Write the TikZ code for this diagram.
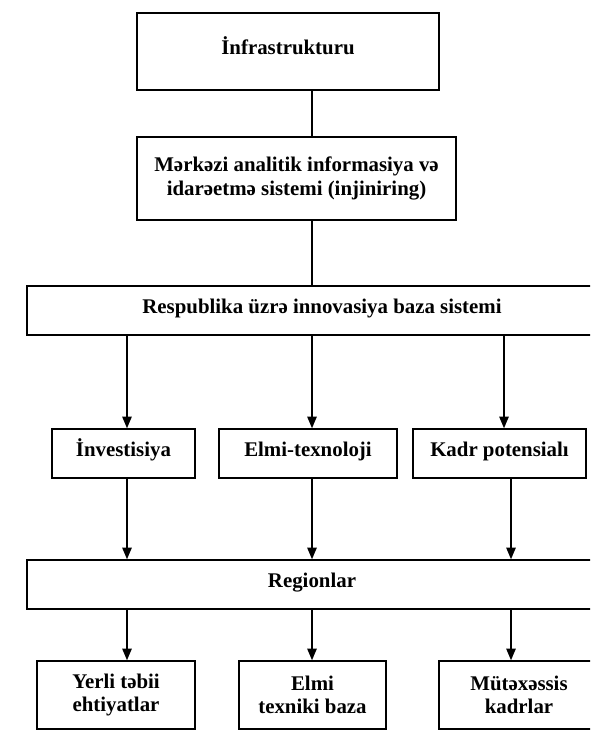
\documentclass[tikz,border=0pt]{standalone}
\usepackage{fontspec}
\setmainfont{Liberation Serif}
\usepackage{tikz}
\usetikzlibrary{arrows}

\begin{document}
\begin{tikzpicture}[x = 0.03cm, y = -0.03cm,
        box/.style = {draw, line width = 1.4pt, align = center, inner sep = 0pt,
            font = \fontsize{17.8}{20}\selectfont\bfseries},
        oneline/.style = {text height = 11pt, text depth = 6pt},
        link/.style = {line width = 1.3pt},
        arr/.style = {line width = 1.3pt, -triangle 45}]
        \clip (0, 0) rectangle (590, 731);
        \fill[white] (0, 0) rectangle (590, 731);

        \node[box, oneline, minimum width = 302*0.03cm, minimum height = 77*0.03cm] (infra) at (288, 51.5) {İnfrastrukturu};
        \node[box, minimum width = 319*0.03cm, minimum height = 83*0.03cm] (merkezi) at (296.5, 178.5)
            {Mərkəzi analitik informasiya və\\idarəetmə sistemi (injiniring)};
        \node[box, oneline, minimum width = 590*0.03cm, minimum height = 49*0.03cm] (resp) at (322, 310.5)
            {Respublika üzrə innovasiya baza sistemi};

        \node[box, oneline, minimum width = 143*0.03cm, minimum height = 49*0.03cm] (invest) at (123.5, 453.5) {İnvestisiya};
        \node[box, oneline, minimum width = 178*0.03cm, minimum height = 49*0.03cm] (elmi) at (308, 453.5) {Elmi-texnoloji};
        \node[box, oneline, minimum width = 173*0.03cm, minimum height = 49*0.03cm] (kadr) at (499.5, 453.5) {Kadr potensialı};

        \node[box, oneline, minimum width = 570*0.03cm, minimum height = 49*0.03cm] (region) at (312, 584.5) {Regionlar};

        \node[box, minimum width = 158*0.03cm, minimum height = 68*0.03cm] (yerli) at (116, 695) {Yerli təbii\\ehtiyatlar};
        \node[box, minimum width = 147*0.03cm, minimum height = 68*0.03cm] (elmitex) at (312.5, 695) {Elmi\\texniki baza};
        \node[box, minimum width = 160*0.03cm, minimum height = 68*0.03cm] (mutex) at (519, 695) {Mütəxəssis\\kadrlar};

        % columns of the arrows
        \coordinate (c1) at (127, 0);
        \coordinate (c2) at (312, 0);
        \coordinate (c3) at (504, 0);
        \coordinate (c4) at (511, 0);

        \draw[link] (infra.south -| c2) -- (merkezi.north -| c2);
        \draw[link] (merkezi.south -| c2) -- (resp.north -| c2);

        \draw[arr] (resp.south -| c1) -- (invest.north -| c1);
        \draw[arr] (resp.south -| c2) -- (elmi.north -| c2);
        \draw[arr] (resp.south -| c3) -- (kadr.north -| c3);

        \draw[arr] (invest.south -| c1) -- (region.north -| c1);
        \draw[arr] (elmi.south -| c2) -- (region.north -| c2);
        \draw[arr] (kadr.south -| c4) -- (region.north -| c4);

        \draw[arr] (region.south -| c1) -- (yerli.north -| c1);
        \draw[arr] (region.south -| c2) -- (elmitex.north -| c2);
        \draw[arr] (region.south -| c4) -- (mutex.north -| c4);
    \end{tikzpicture}
\end{document}
